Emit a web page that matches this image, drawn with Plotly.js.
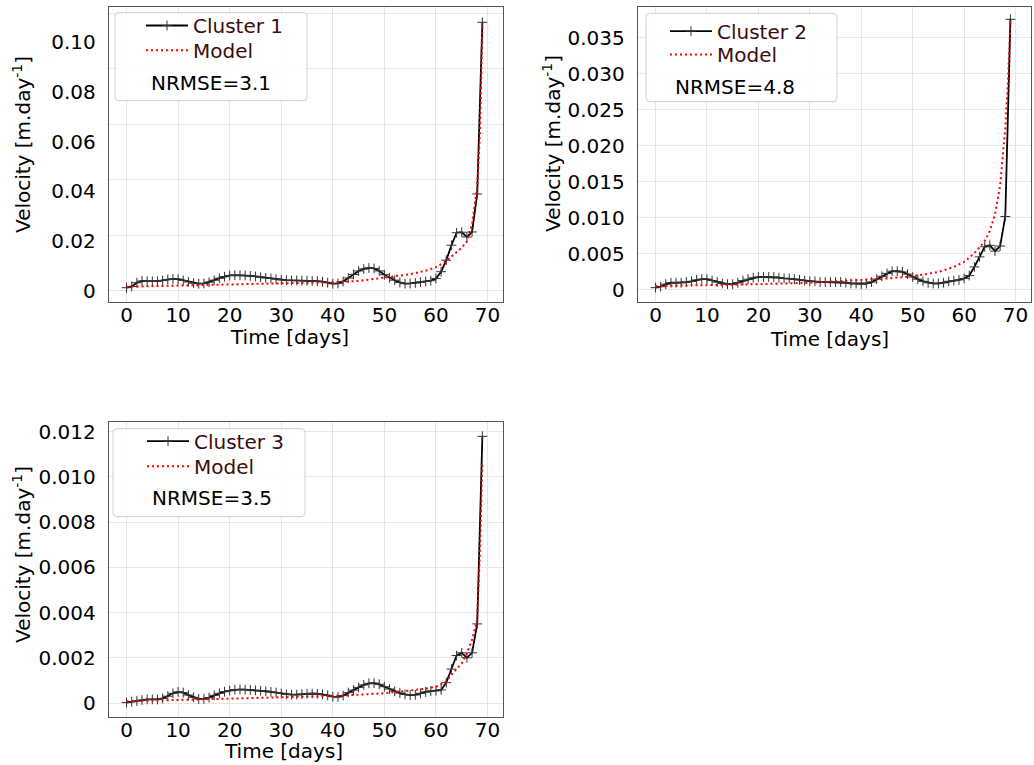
<!DOCTYPE html>
<html><head><meta charset="utf-8">
<script src="https://cdn.plot.ly/plotly-3.0.1.min.js"></script>
<style>html,body{margin:0;padding:0;background:#fff}</style>
</head><body><div id="chart" style="width:1034px;height:765px"></div>
<script>
// ---------- data ----------
const days = [0,1,2,3,4,5,6,7,8,9,10,11,12,13,14,15,16,17,18,19,20,21,22,23,24,25,26,27,28,29,30,31,32,33,34,35,36,37,38,39,40,41,42,43,44,45,46,47,48,49,50,51,52,53,54,55,56,57,58,59,60,61,62,63,64,65,66,67,68,69];

const cluster1 = [0.0015,0.0020,0.0035,0.0042,0.0041,0.0040,0.0041,0.0044,0.0048,0.0050,
  0.0049,0.0044,0.0038,0.0033,0.0031,0.0032,0.0037,0.0045,0.0053,0.0059,
  0.0064,0.0065,0.0065,0.0064,0.0062,0.0060,0.0057,0.0054,0.0052,0.0049,
  0.0046,0.0045,0.0044,0.0044,0.0043,0.0043,0.0042,0.0041,0.0039,0.0035,
  0.0031,0.0032,0.0040,0.0054,0.0068,0.0082,0.0090,0.0094,0.0092,0.0082,
  0.0067,0.0055,0.0045,0.0036,0.0031,0.0032,0.0034,0.0037,0.0040,0.0043,
  0.0052,0.0079,0.0125,0.0185,0.0235,0.0237,0.0218,0.0238,0.0390,0.1077];
const model1Days = [0,5,10,15,20,25,30,35,40,45,50,55,58,60,62,63,64,65,66,67,68,68.5,69];
const model1 = [0.0019,0.0021,0.0023,0.0025,0.0027,0.0030,0.0033,0.0035,0.0037,0.0042,0.0055,0.0069,0.0083,0.0097,0.0122,0.0140,0.0157,0.0175,0.0200,0.0270,0.0420,0.0620,0.1060];

const cluster2 = [0.00032,0.00045,0.0008,0.0010,0.0010,0.0010,0.0011,0.0012,0.0014,0.0015,
  0.0015,0.0013,0.0011,0.0009,0.0008,0.0008,0.0010,0.0013,0.0015,0.0017,
  0.0018,0.0018,0.0018,0.0018,0.0017,0.0016,0.0016,0.0015,0.0014,0.0013,
  0.0012,0.0012,0.0011,0.0011,0.0011,0.0011,0.0011,0.0010,0.0009,0.0009,
  0.0008,0.0009,0.0011,0.0015,0.0019,0.0023,0.0026,0.0026,0.0025,0.0022,
  0.0018,0.0015,0.0012,0.0010,0.0009,0.0009,0.0010,0.0012,0.0013,0.0014,
  0.0016,0.0020,0.0032,0.0046,0.0060,0.0062,0.0054,0.0061,0.0102,0.0376];
const model2Days = [0,10,20,30,40,45,50,55,58,60,62,63,64,65,66,67,68,68.5,69];
const model2 = [0.00055,0.00065,0.0008,0.0010,0.00135,0.0016,0.0019,0.0025,0.0032,0.0039,0.0051,0.0059,0.0068,0.0082,0.0105,0.0145,0.0225,0.0285,0.0375];

const cluster3 = [0.00002,0.00006,0.00009,0.00013,0.00016,0.00016,0.00016,0.0002,0.0003,0.00043,
  0.00049,0.00046,0.00035,0.00025,0.00018,0.00018,0.00024,0.00034,0.00043,0.0005,
  0.00055,0.00059,0.0006,0.00059,0.00058,0.00056,0.00054,0.00052,0.00049,0.00046,
  0.00042,0.00038,0.00037,0.00037,0.00039,0.00041,0.00042,0.00041,0.00038,0.00034,
  0.00028,0.00027,0.00033,0.00046,0.00057,0.00069,0.0008,0.00087,0.00088,0.00083,
  0.00072,0.00062,0.00052,0.00044,0.00038,0.00035,0.00036,0.00043,0.00049,0.00053,
  0.00054,0.00058,0.0009,0.0015,0.0021,0.00222,0.0020,0.00222,0.0035,0.0118];
const model3Days = [0,10,20,30,40,50,55,58,60,62,63,64,65,66,67,68,68.5,69];
const model3 = [0.00008,0.00013,0.00018,0.00025,0.00031,0.00043,0.00055,0.00063,0.00072,0.00095,0.00125,0.0015,0.00175,0.0022,0.0028,0.0037,0.0065,0.0107];

const seriesNames = ['Cluster 1','Cluster 2','Cluster 3'];
const modelName = 'Model';
const nrmseLabels = ['NRMSE=3.1','NRMSE=4.8','NRMSE=3.5'];
const xTicks = [0,10,20,30,40,50,60,70];
const y1Ticks = [0,0.02,0.04,0.06,0.08,0.10];
const y1Text = ['0','0.02','0.04','0.06','0.08','0.10'];
const y2Ticks = [0,0.005,0.010,0.015,0.020,0.025,0.030,0.035];
const y2Text = ['0','0.005','0.010','0.015','0.020','0.025','0.030','0.035'];
const y3Ticks = [0,0.002,0.004,0.006,0.008,0.010,0.012];
const y3Text = ['0','0.002','0.004','0.006','0.008','0.010','0.012'];
const xTitle = 'Time [days]';
const yTitle = 'Velocity [m.day<sup>-1</sup>]';

// ---------- layout helpers ----------
const W = 1034, H = 765;
const fx = p => p / W;
const fy = p => 1 - p / H;
const FONT = 'DejaVu Sans, sans-serif';
const legendColor = '#3d0c0c';

function dataTrace(x, y, name, xa, ya, leg) {
  return {x, y, name, xaxis: xa, yaxis: ya, legend: leg, type: 'scatter', mode: 'lines+markers',
    line: {color: '#000', width: 1.8},
    marker: {symbol: 'cross-thin', size: 7, color: '#333', line: {color: '#333', width: 1}}};
}
function modelTrace(x, y, xa, ya, leg) {
  return {x, y, name: modelName, xaxis: xa, yaxis: ya, legend: leg, type: 'scatter', mode: 'lines',
    line: {color: '#ff0000', width: 2, dash: '2px,3px'}};
}

const traces = [
  dataTrace(days, cluster1, seriesNames[0], 'x', 'y', 'legend'),
  modelTrace(model1Days, model1, 'x', 'y', 'legend2'),
  dataTrace(days, cluster2, seriesNames[1], 'x2', 'y2', 'legend3'),
  modelTrace(model2Days, model2, 'x2', 'y2', 'legend4'),
  dataTrace(days, cluster3, seriesNames[2], 'x3', 'y3', 'legend5'),
  modelTrace(model3Days, model3, 'x3', 'y3', 'legend6'),
  {x: [], y: [], xaxis: 'x', yaxis: 'y4', showlegend: false, type: 'scatter'}
];

const gridC = '#e6e6e6';
function xAxis(l, r, anchor) {
  return {domain: [fx(l), fx(r)], anchor, range: [-3.4, 73.0], tickvals: xTicks,
    showgrid: true, gridcolor: gridC, gridwidth: 1, zeroline: false,
    showline: true, mirror: true, linecolor: '#555', linewidth: 1.3,
    ticks: '', ticklabelstandoff: -5, tickfont: {family: FONT, size: 20, color: '#000'}};
}
function yAxis(t, b, anchor, range, tv, tt, grid) {
  return {domain: [fy(b), fy(t)], anchor, range, tickvals: tv, ticktext: tt,
    showgrid: grid, gridcolor: gridC, gridwidth: 1, zeroline: false,
    showline: true, mirror: true, linecolor: '#555', linewidth: 1.3,
    ticks: '', ticklabelstandoff: 8, tickfont: {family: FONT, size: 20, color: '#000'}};
}

function roundRect(x0, y0, x1, y1, r) {
  const X0 = fx(x0), X1 = fx(x1), Y0 = fy(y0), Y1 = fy(y1);
  const rx = r / W, ry = r / H;
  return {type: 'path', xref: 'paper', yref: 'paper', layer: 'above',
    path: `M${X0 + rx},${Y0} L${X1 - rx},${Y0} Q${X1},${Y0} ${X1},${Y0 - ry} L${X1},${Y1 + ry} Q${X1},${Y1} ${X1 - rx},${Y1} L${X0 + rx},${Y1} Q${X0},${Y1} ${X0},${Y1 + ry} L${X0},${Y0 - ry} Q${X0},${Y0} ${X0 + rx},${Y0} Z`,
    line: {color: '#cfcfcf', width: 1}, fillcolor: 'rgba(255,255,255,0.9)'};
}
function legendObj(xp, yp) {
  return {x: fx(xp), y: fy(yp), xanchor: 'left', yanchor: 'top', bgcolor: 'rgba(0,0,0,0)',
    borderwidth: 0, font: {family: FONT, size: 20, color: legendColor}, itemwidth: 42, tracegroupgap: 0};
}
function ann(text, xp, yp, angle) {
  return {text, x: fx(xp), y: fy(yp), xref: 'paper', yref: 'paper', showarrow: false,
    xanchor: 'center', yanchor: 'middle', textangle: angle || 0,
    font: {family: FONT, size: 20, color: '#000'}};
}

const layout = {
  width: W, height: H, margin: {l: 0, r: 0, t: 0, b: 0},
  paper_bgcolor: '#fff', plot_bgcolor: '#fff', font: {family: FONT, size: 20, color: '#000'},
  xaxis: xAxis(109, 503, 'y'),
  yaxis: yAxis(7.3, 301.7, 'x', [-0.0041, 0.1137], y1Ticks, y1Text, false),
  yaxis4: {overlaying: 'y', anchor: 'x', range: [-0.0041, 0.1137], tick0: 0.0002, dtick: 0.02224,
    showgrid: true, gridcolor: gridC, gridwidth: 1, zeroline: false, showline: false,
    showticklabels: false, ticks: ''},
  xaxis2: xAxis(638, 1031, 'y2'),
  yaxis2: yAxis(7.3, 301.7, 'x2', [-0.00163, 0.03926], y2Ticks, y2Text, true),
  xaxis3: xAxis(109, 503, 'y3'),
  yaxis3: yAxis(422.3, 716.7, 'x3', [-0.000606, 0.01242], y3Ticks, y3Text, true),
  legend: legendObj(141, 6),
  legend2: legendObj(141, 30.7),
  legend3: legendObj(665, 11.7),
  legend4: legendObj(665, 35),
  legend5: legendObj(142, 421.7),
  legend6: legendObj(142, 446.7),
  shapes: [roundRect(115, 12.7, 307, 100.7, 4), roundRect(646, 13.3, 837, 101.7, 4), roundRect(113, 428.7, 305, 516.7, 4)],
  annotations: [
    ann(nrmseLabels[0], 211, 83.3), ann(nrmseLabels[1], 735, 87.3), ann(nrmseLabels[2], 212, 498.3),
    ann(xTitle, 289, 337), ann(xTitle, 829, 339), ann(xTitle, 283, 751),
    ann(yTitle, 22, 145, -90), ann(yTitle, 552, 144, -90), ann(yTitle, 22, 555, -90)
  ],
  showlegend: true
};

Plotly.newPlot('chart', traces, layout, {displayModeBar: false, staticPlot: true});
</script></body></html>
